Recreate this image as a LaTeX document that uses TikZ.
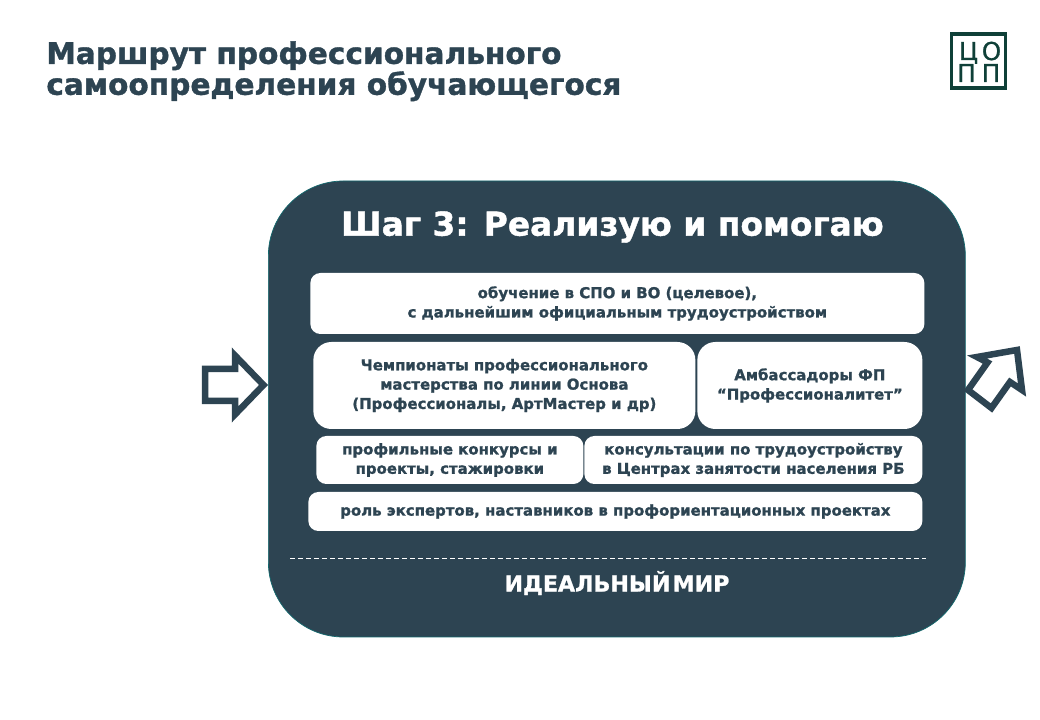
\documentclass[tikz,border=0pt]{standalone}
\usepackage{fontspec}
\setmainfont{DejaVu Sans}
\newfontfamily\heavyfont{DejaVu Sans Bold}[FakeBold=1.2]
\newfontfamily\logofont{DejaVu Sans}[FakeBold=1.0]
\usepackage{xcolor}
\usetikzlibrary{positioning}
\definecolor{slate}{HTML}{2D4452}
\definecolor{logogreen}{HTML}{0F4038}

\begin{document}
\begin{tikzpicture}[
	font=\heavyfont
]
\tikzset{
    whitebox/.style = {rectangle, rounded corners=0.2cm, fill=white, align=center, anchor=west, text=slate, inner sep=0pt, font=\fontsize{8.5}{11}\heavyfont\selectfont},
    arrowline/.style = {draw=slate, line width=0.13cm, miter limit=10},
    logotext/.style = {text=logogreen, inner sep=0pt, anchor=base, font=\fontsize{14}{16}\logofont\selectfont}
}
\useasboundingbox (0,0) rectangle (20.8,14.4);
\fill[white] (0,0) rectangle (20.8,14.4);
% title
\node[anchor=north west, inner sep=0pt, text=slate, align=left, font=\fontsize{16.85}{17.6}\heavyfont\selectfont] (title) at (0.92,13.58) {Маршрут профессионального\\самоопределения обучающегося};
% logo
\node[draw=logogreen, line width=0.07cm, minimum size=1.08cm, inner sep=0pt] (logo) at (19.57,13.18) {};
\node[logotext] (logoa) at (19.37,13.20) {Ц};
\node[logotext] (logob) at (19.83,13.20) {О};
\node[logotext] (logoc) at (19.33,12.76) {П};
\node[logotext] (logod) at (19.82,12.76) {П};
% main panel
\node[rectangle, rounded corners=1.5cm, draw=teal!60!slate, fill=slate, anchor=west, minimum width=13.94cm, minimum height=9.12cm] (panel) at (5.36,6.22) {};
\node[text=white, font=\fontsize{18.7}{24}\heavyfont\selectfont] (step) at (12.25,9.86) {Шаг 3: Реализую и помогаю};
\node[whitebox,minimum width=12.28cm,minimum height=1.22cm] (study) at (6.20,8.33) {обучение в СПО и ВО (целевое),\\с дальнейшим официальным трудоустройством};
\node[whitebox,minimum width=7.64cm,minimum height=1.74cm,rounded corners=0.36cm] (champ) at (6.26,6.69) {Чемпионаты профессионального\\мастерства по линии Основа\\(Профессионалы, АртМастер и др)};
\node[whitebox,minimum width=4.50cm,minimum height=1.74cm,rounded corners=0.36cm] (ambas) at (13.94,6.69) {Амбассадоры ФП\\“Профессионалитет”};
\node[whitebox,minimum width=5.34cm,minimum height=0.96cm] (contest) at (6.32,5.20) {профильные конкурсы и\\проекты, стажировки};
\node[whitebox,minimum width=6.76cm,minimum height=0.96cm] (consult) at (11.68,5.20) {консультации по трудоустройству\\в Центрах занятости населения РБ};
\node[whitebox,minimum width=12.28cm,minimum height=0.78cm] (expert) at (6.16,4.17) {роль экспертов, наставников в профориентационных проектах};
% dashed rule and footer
\coordinate (dasha) at (5.80,3.22);
\coordinate (dashb) at (18.52,3.22);
\draw[white, line width=0.02cm, dash pattern=on 0.1cm off 0.06cm] (dasha) -- (dashb);
\node[text=white, font=\fontsize{12.6}{14}\heavyfont\selectfont] (world) at (12.34,2.74) {ИДЕАЛЬНЫЙ\hspace{0.1em}МИР};
% arrows
\draw[arrowline] (4.10,7.02) -- (4.70,7.02) -- (4.70,7.29) -- (5.27,6.70) -- (4.70,6.11) -- (4.70,6.38) -- (4.10,6.38) -- cycle;
\draw[arrowline] (20.34,7.40) -- (19.54,7.26) -- (19.75,7.15) -- (19.36,6.60) -- (19.83,6.24) -- (20.20,6.76) -- (20.44,6.60) -- cycle;
\end{tikzpicture}
\end{document}
